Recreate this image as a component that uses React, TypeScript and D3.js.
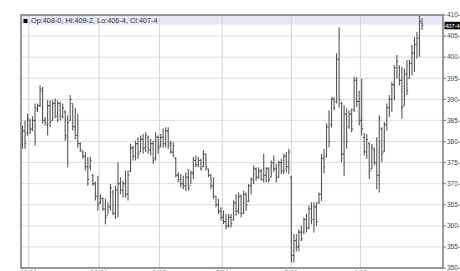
import * as d3 from "d3";

// daily OHLC bars
const highs = [
  383.8, 385.0, 386.6, 385.4, 386.0, 389.0, 389.0, 393.3, 392.9, 385.8,
  389.8, 389.8, 389.8, 390.2, 389.8, 389.4, 389.0, 387.4, 386.2, 391.0,
  389.0, 388.0, 386.6, 379.8, 377.9, 377.5, 376.3, 376.3, 372.3, 370.5,
  371.9, 367.5, 366.7, 366.4, 365.6, 369.9, 368.5, 369.5, 375.1, 371.5,
  370.7, 373.1, 373.1, 379.4, 379.0, 380.2, 381.0, 381.4, 381.8, 382.2,
  381.4, 380.6, 380.2, 382.2, 381.4, 381.8, 383.0, 383.4, 383.4, 380.2,
  379.8, 376.3, 372.7, 372.3, 371.9, 372.7, 373.5, 373.1, 376.3, 376.7,
  376.3, 375.9, 377.9, 377.1, 373.5, 372.3, 371.5, 367.1, 366.4, 364.4,
  363.6, 362.8, 362.8, 362.8, 366.0, 367.5, 367.9, 367.5, 368.3, 367.9,
  369.9, 371.5, 374.3, 373.9, 373.9, 373.5, 377.1, 373.9, 373.9, 375.5,
  376.7, 374.7, 375.5, 375.9, 377.1, 377.5, 378.3, 371.9, 358.0, 358.0,
  359.2, 360.0, 362.0, 362.8, 364.8, 365.6, 365.6, 365.6, 367.9, 377.1,
  378.3, 384.3, 387.4, 390.5, 390.5, 400.9, 407.1, 389.4, 388.6, 387.8,
  387.4, 387.8, 395.3, 395.3, 392.1, 394.9, 382.0, 381.8, 379.8, 379.4,
  378.6, 381.0, 386.2, 383.4, 384.6, 389.0, 391.0, 394.1, 398.1, 400.5,
  398.1, 397.7, 397.3, 399.3, 399.3, 402.9, 404.8, 406.0, 409.8, 409.25,
];
const lows = [
  378.3, 378.3, 381.4, 381.8, 382.5, 379.0, 387.0, 388.2, 384.2, 383.8,
  381.4, 383.4, 385.0, 385.5, 384.6, 385.0, 385.4, 380.2, 373.9, 385.0,
  382.6, 380.5, 378.6, 377.5, 375.9, 373.1, 369.5, 373.1, 369.5, 366.0,
  363.6, 365.2, 363.6, 360.4, 362.8, 363.6, 362.5, 361.6, 362.0, 367.5,
  366.7, 366.7, 366.0, 372.7, 375.5, 375.5, 375.9, 377.5, 377.1, 377.5,
  377.1, 376.7, 374.7, 375.5, 377.1, 378.6, 378.6, 378.6, 378.2, 377.1,
  376.3, 371.5, 370.3, 369.1, 368.7, 368.3, 368.3, 369.9, 371.1, 373.9,
  373.9, 373.1, 373.9, 373.1, 371.5, 368.7, 366.4, 364.4, 362.8, 361.2,
  360.4, 359.2, 359.6, 359.6, 361.2, 362.4, 362.8, 362.0, 362.8, 363.6,
  365.6, 367.5, 369.9, 370.7, 371.1, 370.7, 370.3, 370.3, 370.3, 371.5,
  372.7, 370.3, 371.5, 372.3, 372.3, 372.7, 372.3, 351.3, 351.3, 354.0,
  354.0, 356.4, 358.0, 358.4, 359.2, 360.4, 358.4, 360.0, 365.2, 365.9,
  372.4, 376.2, 378.6, 383.3, 387.4, 389.0, 388.0, 375.1, 371.9, 378.3,
  383.0, 382.2, 387.0, 388.2, 383.8, 381.4, 376.7, 375.9, 371.1, 373.5,
  374.3, 368.7, 367.9, 375.1, 377.5, 382.6, 385.8, 387.0, 389.8, 394.9,
  393.3, 385.4, 388.6, 391.0, 394.9, 395.7, 396.5, 399.7, 400.1, 406.5,
];
const opens = [
  379.0, 382.5, 382.0, 385.0, 383.0, 385.0, 387.5, 388.5, 392.0, 385.0,
  384.0, 388.5, 385.0, 389.0, 386.0, 389.0, 386.0, 387.0, 381.0, 385.0,
  389.0, 383.5, 381.5, 379.5, 377.5, 376.5, 374.0, 374.0, 372.0, 370.0,
  367.0, 365.5, 366.5, 364.0, 362.5, 364.5, 368.0, 363.0, 368.5, 370.0,
  368.5, 370.0, 367.5, 373.0, 378.5, 376.5, 379.5, 377.5, 380.5, 378.5,
  381.0, 378.0, 379.5, 376.0, 381.0, 379.0, 381.0, 379.5, 382.5, 379.5,
  377.5, 376.0, 372.0, 371.0, 370.0, 369.5, 371.5, 369.5, 372.5, 375.5,
  374.5, 375.5, 374.0, 377.0, 373.5, 372.0, 369.5, 367.0, 365.0, 363.5,
  362.0, 361.0, 360.0, 362.0, 361.5, 365.5, 363.5, 367.0, 363.0, 367.5,
  365.8, 369.5, 371.0, 373.5, 371.5, 373.0, 371.0, 372.0, 373.5, 371.5,
  375.0, 373.5, 371.5, 375.0, 373.0, 376.5, 374.0, 371.5, 353.0, 356.5,
  355.0, 358.5, 358.5, 361.5, 359.5, 364.0, 361.5, 364.5, 365.5, 367.5,
  376.0, 376.5, 383.5, 384.0, 390.0, 389.5, 399.5, 389.0, 377.0, 386.5,
  383.5, 386.5, 387.5, 394.5, 389.5, 385.0, 381.0, 377.5, 379.5, 373.5,
  378.0, 375.0, 372.0, 383.0, 377.5, 384.0, 388.0, 390.0, 393.5, 397.5,
  397.5, 394.5, 388.5, 396.0, 395.0, 398.5, 401.0, 403.0, 404.5, 408.0,
];
const closes = [
  382.5, 379.5, 385.5, 383.0, 385.0, 388.0, 388.5, 392.5, 385.0, 384.5,
  388.5, 384.5, 389.0, 386.0, 389.0, 386.0, 388.0, 381.5, 384.5, 390.0,
  383.5, 381.5, 379.5, 378.0, 376.5, 374.0, 371.0, 375.5, 370.0, 367.0,
  365.0, 366.5, 364.0, 362.0, 364.5, 369.0, 363.0, 368.5, 370.0, 368.5,
  370.0, 367.5, 372.0, 378.5, 376.5, 379.5, 377.0, 380.5, 378.5, 381.5,
  378.0, 379.5, 375.5, 381.0, 378.5, 381.0, 379.5, 382.5, 379.0, 377.5,
  379.0, 372.0, 371.0, 370.0, 369.5, 371.5, 369.0, 372.5, 375.5, 374.5,
  375.5, 373.5, 377.0, 374.0, 372.0, 369.5, 367.0, 365.0, 363.5, 362.0,
  361.0, 360.0, 362.0, 360.5, 365.5, 363.5, 367.0, 363.0, 367.5, 365.0,
  369.5, 371.0, 373.5, 371.5, 373.0, 371.0, 372.0, 373.5, 371.0, 375.0,
  373.5, 371.5, 375.0, 373.0, 376.5, 374.0, 377.5, 353.0, 356.5, 355.0,
  358.5, 357.0, 361.5, 359.5, 364.0, 361.5, 364.5, 361.0, 367.5, 376.0,
  374.0, 383.5, 380.0, 390.0, 388.0, 399.5, 390.0, 377.0, 386.5, 380.0,
  386.5, 383.0, 394.5, 389.5, 385.0, 383.0, 377.5, 380.5, 373.0, 378.5,
  375.0, 372.0, 385.5, 377.0, 384.0, 388.0, 390.0, 393.5, 397.5, 399.0,
  394.5, 388.0, 396.0, 392.0, 398.5, 401.0, 403.0, 404.5, 408.5, 407.5,
];

// month separators (bar index) and their labels
const gridIdx = [2.5, 30.5, 54.5, 79.5, 107, 134.5];
const gridLabels = ["11/01", "12/01", "1/03", "2/01", "3/01", "4/01"];
const yTicks = d3.range(350, 411, 5);

const header = "Op:408-0, Hi:409-2, Lo:406-4, Cl:407-4";
const lastLabel = "407-4";

export default function App() {
  const width = 460;
  const height = 271;
  const left = 21;
  const right = 443;
  const top = 15;
  const bottom = 268;

  const x = d3.scaleLinear().domain([0, highs.length - 1]).range([22.5, 422]);
  const y = d3.scaleLinear().domain([350, 410]).range([bottom, top]);
  const font = "'Liberation Sans', Arial, sans-serif";
  const barColor = "#555";

  return (
    <svg
      width={width}
      height={height}
      style={{ position: "absolute", left: 0, top: 0, background: "#fff" }}
    >
      {/* legend band */}
      <rect x={left} y={top} width={right - left} height={9.5} fill="#e6e6f6" />

      {/* horizontal grid */}
      {yTicks.map((t) => (
        <line key={"h" + t} x1={left} x2={right} y1={y(t)} y2={y(t)} stroke="#dcdcdc" strokeWidth={1} />
      ))}
      {/* vertical grid */}
      {gridIdx.map((g) => (
        <line key={"v" + g} x1={x(g)} x2={x(g)} y1={top} y2={bottom} stroke="#d4d4d4" strokeWidth={1} />
      ))}

      {/* OHLC bars */}
      {highs.map((h, i) => {
        const cx = x(i);
        return (
          <g key={i} stroke={barColor} strokeWidth={1.1}>
            <line x1={cx} x2={cx} y1={y(h)} y2={y(lows[i])} />
            <line x1={cx - 1.3} x2={cx} y1={y(opens[i])} y2={y(opens[i])} />
            <line x1={cx} x2={cx + 1.3} y1={y(closes[i])} y2={y(closes[i])} />
          </g>
        );
      })}

      {/* frame */}
      <rect x={left} y={top} width={right - left} height={bottom - top} fill="none" stroke="#7a7a7a" strokeWidth={1.5} />

      {/* header */}
      <rect x={23.5} y={19} width={4} height={4} fill="#000" />
      <text x={31} y={22.8} fontSize={7.3} fontFamily={font} fill="#333">
        {header}
      </text>

      {/* y axis */}
      {yTicks.map((t) => (
        <g key={"yt" + t}>
          <line x1={right} x2={right + 3} y1={y(t)} y2={y(t)} stroke="#7a7a7a" />
          <text x={447} y={y(t)} dy="0.35em" fontSize={6.5} fontFamily={font} fill="#444">
            {`${t}-`}
          </text>
        </g>
      ))}

      {/* last price */}
      <rect x={444.5} y={y(407.5) - 3.8} width={15.5} height={7.6} fill="#111" />
      <text x={445} y={y(407.5)} dy="0.35em" fontSize={5.8} fontFamily={font} fill="#fff">
        {lastLabel}
      </text>

      {/* x labels (mostly cut off by the window) */}
      {gridIdx.map((g, i) => (
        <text key={"xl" + g} x={x(g)} y={275} textAnchor="middle" fontSize={7} fontFamily={font} fill="#888">
          {gridLabels[i]}
        </text>
      ))}
    </svg>
  );
}
